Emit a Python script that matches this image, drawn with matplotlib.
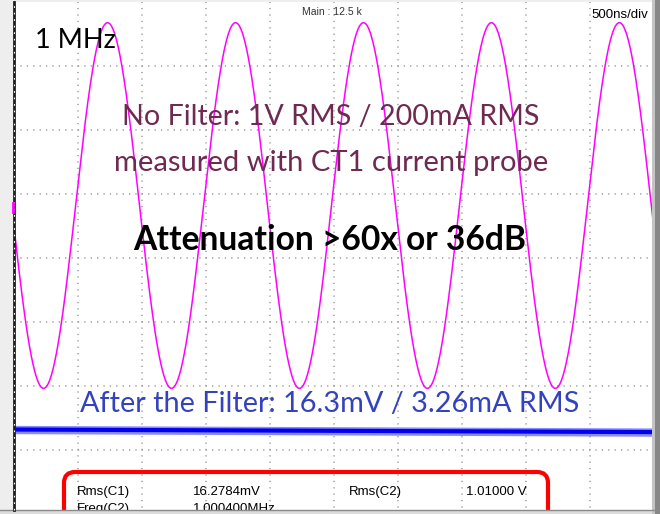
import numpy as np
import matplotlib
matplotlib.use("Agg")
import matplotlib.pyplot as plt
from matplotlib.patches import FancyBboxPatch, Rectangle
from matplotlib.lines import Line2D
from matplotlib.transforms import IdentityTransform

plt.rcParams['lines.scale_dashes'] = False

time_per_div_us = 0.5          # 500 ns/div
n_div_x = 10
n_div_y = 8
c2_freq_mhz = 1.000400         # Freq(C2)
c2_rms_v = 1.01                # Rms(C2)
c2_volts_per_div = 0.5
c2_position_div = 0.82         # trace centre above screen centre
c2_first_peak_us = 0.731       # time of first crest on screen
c1_level_div = [-2.68, -2.70, -2.72]  # filtered trace level at start / middle / end
c1_times_us = [0.0, 2.5, 5.0]
c1_noise_halfwidth_div = 0.065

freq_label = "1 MHz"
line1 = "No Filter: 1V RMS / 200mA RMS"
line2 = "measured with CT1 current probe"
line3 = "Attenuation >60x or 36dB"
line4 = "After the Filter: 16.3mV / 3.26mA RMS"
header_main = "Main : 12.5 k"
header_tb = "500ns/div"
meas_names = ["Rms(C1)", "Freq(C2)"]
meas_values = ["16.2784mV", "1.000400MHz"]
meas2_name = "Rms(C2)"
meas2_value = "1.01000 V"

W, H = 660, 514
fig = plt.figure(figsize=(W / 100, H / 100), dpi=100, facecolor='#eeeeee')
ax = fig.add_axes([14 / W, 0, 640 / W, 512 / H])
ax.set_facecolor('white')
xmax = n_div_x * time_per_div_us
ax.set_xlim(0, xmax)
ax.set_ylim(-n_div_y / 2, n_div_y / 2)
ax.set_xticks([]); ax.set_yticks([])
for s in ax.spines.values():
    s.set_visible(False)

# dotted graticule
grid_kw = dict(color='#9c9c9c', lw=1.1, linestyle=(0, (0.9, 3.7)), zorder=1)
for i in range(1, n_div_x):
    ax.plot([i * time_per_div_us] * 2, [-4, 4], **grid_kw)
for j in range(-3, 4):
    ax.plot([0, xmax], [j, j], **grid_kw)

# C2 : unfiltered sine
t = np.linspace(0, xmax, 6000)
v = np.sqrt(2) * c2_rms_v * np.cos(2 * np.pi * c2_freq_mhz * (t - c2_first_peak_us))
ax.plot(t, v / c2_volts_per_div + c2_position_div, color='#ff00ff', lw=1.1, zorder=3)

# C1 : filtered trace
lvl = np.interp(t, c1_times_us, c1_level_div)
ax.fill_between(t, lvl - c1_noise_halfwidth_div, lvl + c1_noise_halfwidth_div,
                color='#2a2aff', alpha=0.55, lw=0, zorder=3)
ax.plot(t, lvl, color='#0000ee', lw=3.0, zorder=4)

# ---------- texts ----------
def ftext(x, y, s, **kw):
    fig.text(x / W, 1 - y / H, s, **kw)

ftext(35, 48, freq_label, family='Lato', size=19.5, color='black', va='baseline', ha='left')
maroon = '#6e2a50'
ftext(331, 125, line1, family='Lato', size=20.6, color=maroon, va='baseline', ha='center')
ftext(331, 171, line2, family='Lato', size=21.0, color=maroon, va='baseline', ha='center')
ftext(330, 250, line3, family='Lato', size=24.2, weight='bold', color='black', va='baseline', ha='center')
ftext(330, 412, line4, family='Lato', size=20.8, color='#3443bd', va='baseline', ha='center')
ftext(332, 15, header_main, family='Liberation Sans', size=7.5, color='#333333', va='baseline', ha='center')
ftext(648, 18, header_tb, family='Liberation Sans', size=9.5, color='black', va='baseline', ha='right')

# measurement box
box = FancyBboxPatch((64, -30), 484, 72, boxstyle="round,pad=0,rounding_size=11",
                     transform=IdentityTransform(), facecolor='none', edgecolor='#ff0000',
                     lw=3.0, zorder=6)
fig.add_artist(box)
mkw = dict(family='Liberation Sans', size=9.5, color='black', va='baseline', ha='left', zorder=7)
ftext(77, 495, meas_names[0], **mkw)
ftext(193, 495, meas_values[0], **mkw)
ftext(349, 495, meas2_name, **mkw)
ftext(466, 495, meas2_value, **mkw)
ftext(77, 512, meas_names[1], **mkw)
ftext(193, 512, meas_values[1], **mkw)

# screen frame decorations
fig.add_artist(Rectangle((0, 0), W, 4, transform=IdentityTransform(),
                         facecolor='#dcdcdc', edgecolor='none', zorder=10))
fig.add_artist(Line2D([0, W], [4, 4], transform=IdentityTransform(), color='#8a8a8a', lw=1.0, zorder=11))
fig.add_artist(Rectangle((652, 0), 3, H, transform=IdentityTransform(),
                         facecolor='#c4c4c4', edgecolor='none', zorder=10))
fig.add_artist(Rectangle((655, 0), 5, H, transform=IdentityTransform(),
                         facecolor='#878787', edgecolor='none', zorder=10))
fig.add_artist(Line2D([14, 14], [4, H - 2], transform=IdentityTransform(), color='#1e1e1e', lw=2.0, zorder=11))
fig.add_artist(Line2D([14, 14], [4, H - 2], transform=IdentityTransform(), color='white', lw=0.8,
                      linestyle=(0, (1.2, 3.5)), zorder=12))
fig.add_artist(Line2D([13, 13], [H - 203, H - 212], transform=IdentityTransform(), color='#ff00ff', lw=2.0, zorder=13))

fig.savefig('out.png', dpi=100, facecolor=fig.get_facecolor())
